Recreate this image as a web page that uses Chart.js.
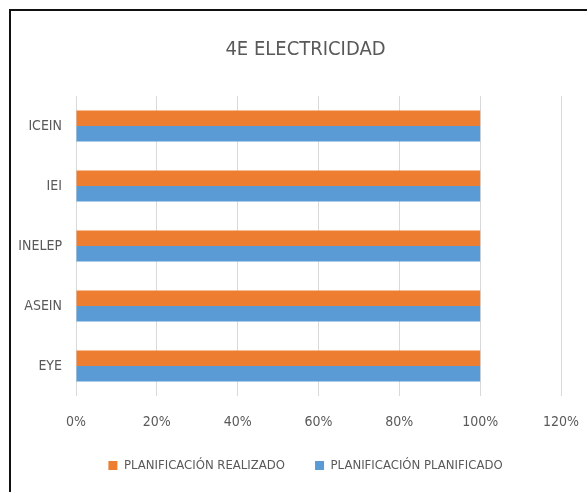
<!DOCTYPE html>
<html>
<head>
<meta charset="utf-8">
<script src="https://cdn.jsdelivr.net/npm/chart.js@4/dist/chart.umd.min.js"></script>
<style>
  body { margin: 0; background: #fff; }
  #wrap { position: relative; width: 587px; height: 492px; overflow: hidden; }
  #frame { position: absolute; left: 9px; top: 9px; width: 600px; height: 500px;
           border-top: 2px solid #111; border-left: 2px solid #111; pointer-events: none; }
  canvas { position: absolute; left: 0; top: 0; }
</style>
</head>
<body>
<div id="wrap">
  <canvas id="barChart" width="587" height="492"></canvas>
  <div id="frame"></div>
</div>
<script>
const categories = ["ICEIN", "IEI", "INELEP", "ASEIN", "EYE"];
const realizado = [100, 100, 100, 100, 100];
const planificado = [100, 100, 100, 100, 100];
const xTicks = [0, 20, 40, 60, 80, 100, 120];

const FONT = "'Liberation Sans Narrow', 'DejaVu Sans Condensed', sans-serif";
const grey = "#595959";

// the original frame is cut off on the right, so title and legend sit right of canvas centre
const shiftBoxes = {
  id: "shiftBoxes",
  beforeDraw(chart, args, opts) {
    [chart.titleBlock, chart.legend].forEach(box => {
      if (box && !box._shifted) {
        box.left += opts.dx;
        box.right += opts.dx;
        box._shifted = true;
      }
    });
  }
};

new Chart(document.getElementById("barChart"), {
  type: "bar",
  data: {
    labels: categories,
    datasets: [
      {
        label: "PLANIFICACIÓN REALIZADO",
        data: realizado,
        backgroundColor: "#ED7D31",
        barPercentage: 1,
        categoryPercentage: 0.52
      },
      {
        label: "PLANIFICACIÓN PLANIFICADO",
        data: planificado,
        backgroundColor: "#5B9BD5",
        barPercentage: 1,
        categoryPercentage: 0.52
      }
    ]
  },
  plugins: [shiftBoxes],
  options: {
    indexAxis: "y",
    responsive: false,
    animation: false,
    layout: { autoPadding: false, padding: { top: 0, left: 0, right: 26, bottom: 10 } },
    plugins: {
      shiftBoxes: { dx: 25 },
      title: {
        display: true,
        text: "4E ELECTRICIDAD",
        color: grey,
        font: { family: FONT, size: 20, weight: "normal" },
        padding: { top: 38, bottom: 34 }
      },
      legend: {
        position: "bottom",
        labels: {
          color: grey,
          font: { family: FONT, size: 13 },
          boxWidth: 9,
          boxHeight: 9,
          padding: 30
        }
      },
      tooltip: { enabled: false }
    },
    scales: {
      x: {
        min: 0,
        max: 120,
        afterBuildTicks: scale => { scale.ticks = xTicks.map(v => ({ value: v })); },
        ticks: {
          color: grey,
          font: { family: FONT, size: 14 },
          padding: 18,
          callback: v => v + "%"
        },
        grid: { color: "#d9d9d9", drawTicks: false },
        border: { display: false },
        afterFit: scale => {
          scale.height = 33;
          scale.paddingLeft = 0;
          scale.paddingRight = 0;
        }
      },
      y: {
        ticks: {
          color: grey,
          font: { family: FONT, size: 14 },
          padding: 14
        },
        grid: { display: false, drawTicks: false },
        border: { display: false },
        afterFit: scale => { scale.width = 76; }
      }
    }
  }
});
</script>
</body>
</html>
